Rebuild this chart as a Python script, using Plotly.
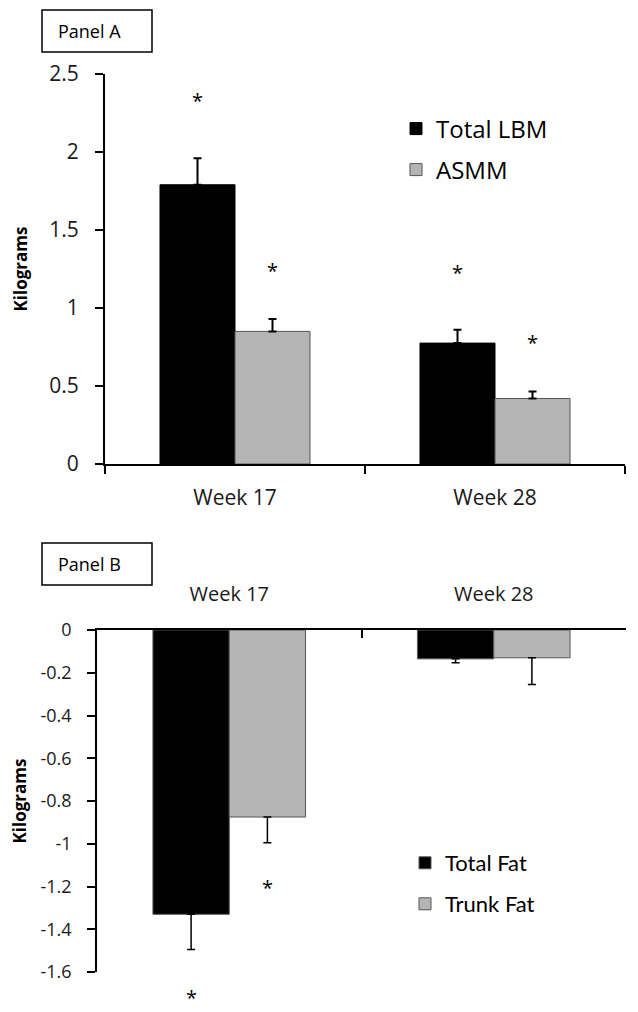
import plotly.graph_objects as go

# ---------------- data ----------------
weeks = ["Week 17", "Week 28"]

# Panel A (lean mass change, kg)
lbm = [1.79, 0.775]
lbm_err = [0.17, 0.085]
asmm = [0.85, 0.42]
asmm_err = [0.08, 0.045]
lbm_sig = [True, True]
asmm_sig = [True, True]

# Panel B (fat mass change, kg)
total_fat = [-1.33, -0.135]
total_fat_err = [0.165, 0.018]
trunk_fat = [-0.875, -0.13]
trunk_fat_err = [0.12, 0.125]
total_fat_sig = [True, False]
trunk_fat_sig = [True, False]

a_ticks = [0, 0.5, 1, 1.5, 2, 2.5]
b_ticks = [0, -0.2, -0.4, -0.6, -0.8, -1, -1.2, -1.4, -1.6]

# --------------- style ----------------
PAGE_W, PAGE_H = 638, 1012
OFF = 8  # the page body adds an 8px margin; the figure is shrunk to compensate
W, H = PAGE_W - OFF, PAGE_H - OFF
FONT = "Open Sans"
LEG_B_FONT = "Lato"
GRAY = "#b5b5b5"
BARGAP = 0.423
HALF = (1 - BARGAP) / 4  # offset of each bar centre from category centre


def px_x(p):
    return (p - OFF) / W


def px_y(p):
    return 1 - (p - OFF) / H


fig = go.Figure()

fig.add_trace(go.Bar(
    x=weeks, y=lbm, name="Total LBM", xaxis="x", yaxis="y",
    marker=dict(color="black", line=dict(color="black", width=1)),
    error_y=dict(type="data", array=lbm_err, arrayminus=[0] * len(lbm_err),
                 color="black", thickness=2, width=4),
    legend="legend",
))
fig.add_trace(go.Bar(
    x=weeks, y=asmm, name="ASMM", xaxis="x", yaxis="y",
    marker=dict(color=GRAY, line=dict(color="#555555", width=1)),
    error_y=dict(type="data", array=asmm_err, arrayminus=[0] * len(asmm_err),
                 color="black", thickness=2, width=4),
    legend="legend2",
))
fig.add_trace(go.Bar(
    x=weeks, y=total_fat, name="Total Fat", xaxis="x2", yaxis="y2",
    marker=dict(color="black", line=dict(color="#555555", width=1)),
    error_y=dict(type="data", array=[0] * len(total_fat_err), arrayminus=total_fat_err,
                 color="black", thickness=1.5, width=4),
    legend="legend3",
))
fig.add_trace(go.Bar(
    x=weeks, y=trunk_fat, name="Trunk Fat", xaxis="x2", yaxis="y2",
    marker=dict(color=GRAY, line=dict(color="#555555", width=1)),
    error_y=dict(type="data", array=[0] * len(trunk_fat_err), arrayminus=trunk_fat_err,
                 color="black", thickness=1.5, width=4),
    legend="legend4",
))

annotations = []
# significance asterisks, placed beyond the end of each error bar
for vals, errs, sig, off, xr, yr, shift in [
        (lbm, lbm_err, lbm_sig, -HALF, "x", "y", 63),
        (asmm, asmm_err, asmm_sig, HALF, "x", "y", 54),
        (total_fat, total_fat_err, total_fat_sig, -HALF, "x2", "y2", -42),
        (trunk_fat, trunk_fat_err, trunk_fat_sig, HALF, "x2", "y2", -39)]:
    for i, (v, e, s) in enumerate(zip(vals, errs, sig)):
        if not s:
            continue
        end = v + e if v >= 0 else v - e
        annotations.append(dict(x=i + off, y=end, xref=xr, yref=yr, text="*", showarrow=False,
                                font=dict(family=FONT, size=20, color="black"),
                                height=14, valign="middle",
                                xanchor="center", yanchor="middle", yshift=shift - 5))

# panel labels
shapes = []
for label, top in [("Panel A", 10), ("Panel B", 543)]:
    shapes.append(dict(type="rect", xref="paper", yref="paper",
                       x0=px_x(42), x1=px_x(152), y0=px_y(top), y1=px_y(top + 42),
                       line=dict(color="black", width=1.5), fillcolor="white"))
    annotations.append(dict(x=px_x(56), y=px_y(top + 21), xref="paper", yref="paper",
                            text=label, showarrow=False, xanchor="left", yanchor="middle",
                            font=dict(family=FONT, size=18, color="black")))

axis_common = dict(showline=True, linecolor="black", showgrid=False, zeroline=False,
                   tickcolor="black", ticklen=8, automargin=False)


def leg(xp, yp, family, size):
    return dict(x=px_x(xp), y=px_y(yp), xanchor="left", yanchor="middle",
                font=dict(family=family, size=size, color="black"),
                bgcolor="rgba(0,0,0,0)", borderwidth=0)


fig.update_layout(
    width=W, height=H,
    margin=dict(l=0, r=0, t=0, b=0, autoexpand=False),
    paper_bgcolor="white", plot_bgcolor="white",
    barmode="group", bargap=BARGAP, bargroupgap=0,
    font=dict(family=FONT, color="#1a1a1a"),
    xaxis=dict(domain=[px_x(105), px_x(625)], anchor="y", type="category",
               range=[-0.5, 1.5], ticks="outside", tickson="boundaries",
               tickwidth=2, linewidth=2, tickfont=dict(size=21), ticklabelstandoff=14,
               **axis_common),
    yaxis=dict(domain=[px_y(464), px_y(74)], anchor="x", range=[0, 2.5],
               tickvals=a_ticks, ticktext=[f"{v:g}" for v in a_ticks],
               ticks="outside", tickwidth=2, linewidth=2, tickfont=dict(size=21),
               ticklabelstandoff=12,
               title=dict(text="<b>Kilograms</b>", font=dict(size=17, color="black"), standoff=17),
               **axis_common),
    xaxis2=dict(domain=[px_x(97), px_x(626)], anchor="y2", type="category", side="top",
                range=[-0.5, 1.5], ticks="inside", tickson="boundaries",
                tickwidth=1.5, linewidth=1.5, tickfont=dict(size=20), ticklabelstandoff=19,
                **axis_common),
    yaxis2=dict(domain=[px_y(972), px_y(630)], anchor="x2", range=[-1.6, 0],
                tickvals=b_ticks, ticktext=[f"{v:g}" for v in b_ticks],
                ticks="outside", tickwidth=1.5, linewidth=1.5, tickfont=dict(size=18),
                ticklabelstandoff=12,
                title=dict(text="<b>Kilograms</b>", font=dict(size=17, color="black"), standoff=11),
                **axis_common),
    legend=leg(396, 129, FONT, 24),
    legend2=leg(396, 170, FONT, 24),
    legend3=leg(405, 863, LEG_B_FONT, 22),
    legend4=leg(405, 904, LEG_B_FONT, 22),
    shapes=shapes,
    annotations=annotations,
    showlegend=True,
)

fig.write_html("out.html")
